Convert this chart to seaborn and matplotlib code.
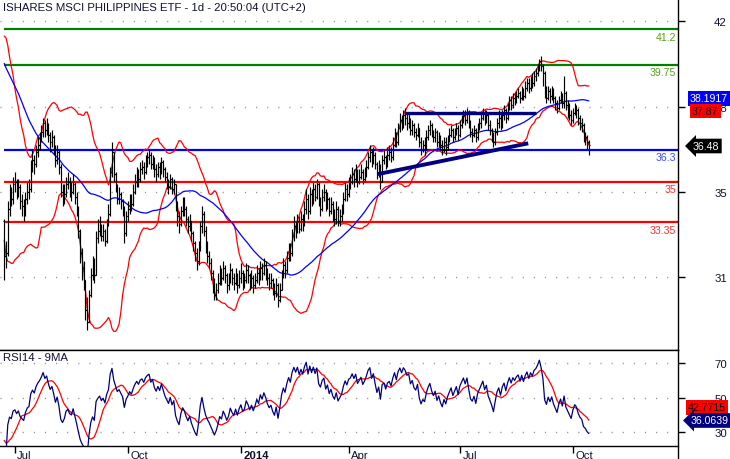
import numpy as np
import pandas as pd
import matplotlib
matplotlib.use("Agg")
import matplotlib.pyplot as plt
from matplotlib.lines import Line2D
from matplotlib.transforms import blended_transform_factory
import seaborn as sns

# ---------------- data ----------------
title = "ISHARES MSCI PHILIPPINES ETF - 1d - 20:50:04 (UTC+2)"
rsi_title = "RSI14 - 9MA"

# closes before the first visible bar (only used to seed the indicators)
warmup_closes = [41.2, 41.5, 41.8, 41.6, 42.0, 42.3, 42.1, 42.6, 42.9, 43.2,
                 43.0, 43.4, 43.6, 43.3, 42.8, 42.5, 42.9, 42.4, 42.0, 41.6,
                 41.9, 41.3, 40.8, 41.1, 40.6, 40.2, 40.5, 40.0, 39.6, 40.1,
                 39.4, 39.0, 39.5, 38.8, 38.3, 38.9, 38.2, 37.6, 37.9, 37.2,
                 36.6, 37.0, 36.3, 35.7, 35.9, 35.2, 34.6, 34.0, 33.4]

closes = [
    32.0, 32.1, 33.9, 34.5, 34.3, 34.9, 35.0, 34.6, 34.8, 34.2,
    34.0, 33.8, 34.3, 34.6, 34.7, 35.6, 35.9, 35.7, 36.2, 36.5,
    36.7, 37.0, 37.4, 37.1, 37.3, 36.9, 36.6, 36.8, 36.4, 35.9,
    36.2, 35.6, 34.6, 34.3, 34.5, 34.9, 35.0, 34.7, 34.6, 34.9,
    34.4, 33.8, 33.0, 32.1, 31.5, 31.0, 29.8, 29.3, 30.4, 31.2,
    31.6, 31.2, 32.7, 33.0, 33.2, 32.8, 33.0, 32.6, 33.3, 33.7,
    35.4, 36.2, 35.3, 34.8, 34.3, 34.5, 34.2, 33.9, 32.9, 33.6,
    33.9, 34.3, 34.1, 34.6, 35.0, 35.3, 35.1, 35.5, 35.6, 35.4,
    35.8, 36.0, 36.1, 35.7, 35.9, 35.5, 35.3, 35.6, 35.4, 35.8,
    35.5, 35.2, 35.0, 34.8, 35.1, 34.7, 34.9, 34.0, 33.6, 33.3,
    33.8, 34.1, 33.9, 33.5, 33.2, 33.4, 32.9, 32.5, 32.1, 31.8,
    32.3, 33.2, 33.7, 33.0, 32.4, 32.0, 31.7, 31.3, 30.9, 30.4,
    30.6, 30.9, 31.3, 31.1, 31.5, 31.2, 30.8, 31.0, 31.4, 31.1,
    30.9, 31.2, 30.8, 31.1, 31.3, 30.9, 31.0, 31.4, 31.2, 30.9,
    31.1, 30.8, 31.0, 31.3, 31.1, 31.5, 31.3, 31.6, 31.4, 31.1,
    30.9, 31.0, 30.7, 30.5, 30.8, 30.2, 30.6, 31.2, 31.6, 31.4,
    31.9, 32.3, 32.1, 32.8, 33.2, 33.0, 33.4, 33.1, 33.5, 33.3,
    33.9, 34.3, 33.8, 34.5, 34.2, 34.7, 34.4, 34.9, 34.1, 33.9,
    34.4, 34.6, 34.0, 34.3, 33.8, 34.1, 33.7, 33.5, 33.9, 33.4,
    33.6, 33.8, 34.3, 34.7, 34.5, 34.9, 35.0, 35.3, 35.1, 35.4,
    35.0, 35.2, 35.4, 35.1, 35.3, 35.6, 36.0, 36.2, 35.8, 36.1,
    35.7, 35.3, 35.6, 35.0, 35.9, 36.0, 35.7, 36.1, 36.2, 36.0,
    36.5, 36.9, 36.6, 37.2, 37.5, 37.3, 37.7, 37.6, 37.4, 37.5,
    37.1, 37.3, 37.0, 36.9, 37.2, 36.6, 36.3, 36.5, 36.4, 36.8,
    37.1, 37.3, 37.0, 36.8, 37.0, 36.6, 36.8, 36.5, 36.3, 36.6,
    36.4, 36.7, 36.9, 37.1, 36.8, 37.0, 37.2, 36.9, 37.3, 37.5,
    37.7, 37.5, 37.8, 37.4, 37.0, 36.9, 37.1, 36.8, 37.2, 37.4,
    37.6, 37.8, 37.5, 37.7, 37.3, 37.1, 36.9, 36.6, 37.0, 37.4,
    37.6, 37.3, 37.7, 37.9, 37.6, 38.0, 38.3, 38.1, 38.4, 38.3,
    38.5, 38.6, 38.4, 38.7, 38.5, 38.8, 39.0, 38.8, 39.1, 39.0,
    39.3, 39.4, 39.6, 39.9, 39.7, 39.4, 38.6, 38.4, 38.7, 38.5,
    38.7, 38.4, 38.2, 38.0, 38.3, 38.5, 38.2, 38.6, 38.1, 37.9,
    37.7, 37.5, 37.8, 38.0, 37.9, 37.6, 37.4, 37.3, 36.9, 36.8, 36.6, 36.48]

highs = [
    33.5, 32.6, 34.2, 34.9, 34.8, 35.2, 35.4, 35.1, 35.1, 34.9,
    34.5, 34.3, 34.6, 35.0, 35.1, 35.9, 36.3, 36.1, 36.5, 36.8,
    37.0, 37.3, 37.6, 37.5, 37.6, 37.4, 37.0, 37.1, 36.9, 36.5,
    36.5, 36.3, 35.7, 34.9, 34.9, 35.2, 35.4, 35.2, 35.0, 35.3,
    35.0, 34.6, 34.0, 33.1, 32.3, 31.8, 31.0, 30.3, 30.6, 31.5,
    32.0, 31.9, 33.0, 33.5, 33.6, 33.3, 33.3, 33.1, 33.5, 34.1,
    35.6, 36.6, 36.1, 35.4, 34.9, 34.8, 34.6, 34.3, 34.0, 33.8,
    34.2, 34.5, 34.5, 34.9, 35.3, 35.6, 35.5, 35.8, 35.9, 35.8,
    36.1, 36.2, 36.3, 36.2, 36.1, 36.0, 35.7, 35.8, 35.8, 36.0,
    35.9, 35.6, 35.4, 35.1, 35.3, 35.2, 35.1, 34.9, 34.2, 33.8,
    34.0, 34.4, 34.4, 34.0, 33.6, 33.7, 33.4, 33.0, 32.6, 32.3,
    32.6, 33.4, 34.0, 33.8, 33.2, 32.6, 32.2, 31.9, 31.4, 31.1,
    30.9, 31.3, 31.6, 31.5, 31.8, 31.6, 31.3, 31.3, 31.7, 31.5,
    31.3, 31.5, 31.3, 31.4, 31.7, 31.4, 31.3, 31.7, 31.6, 31.3,
    31.4, 31.2, 31.3, 31.6, 31.5, 31.8, 31.7, 31.9, 31.8, 31.5,
    31.3, 31.3, 31.1, 30.9, 31.1, 30.9, 30.9, 31.4, 31.9, 31.8,
    32.2, 32.5, 32.5, 33.1, 33.6, 33.4, 33.7, 33.6, 33.8, 33.7,
    34.2, 34.7, 34.5, 34.8, 34.7, 35.0, 34.9, 35.1, 35.0, 34.4,
    34.7, 34.9, 34.7, 34.6, 34.4, 34.4, 34.2, 33.9, 34.2, 34.0,
    33.9, 34.1, 34.6, 35.0, 34.9, 35.2, 35.3, 35.6, 35.5, 35.7,
    35.5, 35.5, 35.7, 35.5, 35.6, 35.9, 36.2, 36.5, 36.3, 36.4,
    36.2, 35.8, 35.9, 35.7, 36.1, 36.3, 36.1, 36.4, 36.5, 36.4,
    36.8, 37.2, 37.0, 37.4, 37.8, 37.7, 37.9, 38.0, 37.8, 37.8,
    37.6, 37.5, 37.4, 37.2, 37.4, 37.2, 36.8, 36.7, 36.8, 37.1,
    37.3, 37.5, 37.4, 37.1, 37.2, 37.1, 37.0, 36.9, 36.7, 36.8,
    36.8, 36.9, 37.2, 37.3, 37.2, 37.2, 37.4, 37.3, 37.5, 37.7,
    37.9, 37.9, 38.0, 37.9, 37.5, 37.2, 37.3, 37.2, 37.4, 37.6,
    37.8, 38.0, 37.9, 37.9, 37.8, 37.5, 37.2, 37.0, 37.2, 37.6,
    37.9, 37.8, 37.9, 38.1, 38.0, 38.2, 38.5, 38.5, 38.6, 38.6,
    38.7, 38.8, 38.7, 38.9, 38.8, 39.1, 39.2, 39.2, 39.3, 39.4,
    39.5, 39.6, 39.8, 40.0, 40.1, 39.8, 39.5, 38.9, 38.9, 38.8,
    38.9, 38.8, 38.5, 38.3, 38.5, 38.7, 38.6, 39.3, 38.7, 38.3,
    38.2, 37.9, 38.0, 38.2, 38.1, 38.0, 37.7, 37.6, 37.4, 37.0, 36.9, 36.7]

lows = [
    31.0, 31.5, 32.0, 33.6, 34.0, 34.1, 34.6, 34.3, 34.4, 33.9,
    33.6, 33.4, 33.6, 34.1, 34.3, 34.6, 35.4, 35.3, 35.6, 36.0,
    36.3, 36.6, 36.8, 36.8, 36.9, 36.6, 36.2, 36.4, 36.1, 35.6,
    35.7, 35.3, 34.4, 34.0, 34.1, 34.4, 34.7, 34.4, 34.2, 34.5,
    34.1, 33.6, 32.7, 31.7, 31.0, 30.6, 29.4, 29.0, 29.3, 30.3,
    31.0, 30.9, 31.4, 32.5, 32.8, 32.6, 32.6, 32.4, 32.5, 33.2,
    33.6, 35.2, 35.0, 34.6, 34.1, 34.1, 33.9, 33.6, 32.5, 32.8,
    33.4, 33.7, 33.8, 34.0, 34.5, 34.8, 34.8, 35.0, 35.3, 35.1,
    35.3, 35.6, 35.7, 35.5, 35.5, 35.2, 35.0, 35.2, 35.1, 35.3,
    35.2, 35.0, 34.7, 34.5, 34.7, 34.5, 34.5, 33.8, 33.2, 32.9,
    33.2, 33.6, 33.6, 33.2, 32.9, 33.0, 32.6, 32.2, 31.8, 31.4,
    31.6, 32.2, 32.9, 32.8, 32.1, 31.7, 31.5, 31.0, 30.5, 30.2,
    30.2, 30.5, 30.8, 30.8, 31.0, 30.9, 30.5, 30.6, 30.9, 30.8,
    30.6, 30.8, 30.5, 30.7, 30.9, 30.6, 30.7, 30.9, 30.9, 30.6,
    30.7, 30.5, 30.7, 30.9, 30.8, 31.0, 31.0, 31.2, 31.0, 30.8,
    30.6, 30.7, 30.4, 30.2, 30.3, 29.9, 30.1, 30.6, 31.1, 31.1,
    31.3, 31.8, 31.8, 32.0, 32.6, 32.7, 32.9, 32.9, 33.0, 33.0,
    33.2, 33.7, 33.5, 33.7, 34.0, 34.1, 34.2, 34.3, 34.0, 33.6,
    33.8, 34.2, 33.8, 33.9, 33.6, 33.7, 33.4, 33.2, 33.3, 33.2,
    33.2, 33.4, 33.7, 34.2, 34.2, 34.4, 34.7, 34.9, 34.8, 35.0,
    34.8, 34.9, 35.1, 34.9, 35.0, 35.2, 35.5, 35.8, 35.6, 35.7,
    35.5, 35.1, 35.2, 34.7, 35.1, 35.7, 35.5, 35.6, 35.9, 35.8,
    35.9, 36.4, 36.4, 36.5, 37.0, 37.1, 37.2, 37.3, 37.1, 37.2,
    36.9, 36.9, 36.8, 36.7, 36.8, 36.4, 36.1, 36.2, 36.1, 36.3,
    36.7, 36.9, 36.8, 36.6, 36.6, 36.4, 36.4, 36.3, 36.1, 36.2,
    36.1, 36.3, 36.6, 36.8, 36.6, 36.7, 36.9, 36.7, 36.8, 37.2,
    37.4, 37.3, 37.4, 37.2, 36.8, 36.6, 36.8, 36.6, 36.7, 37.1,
    37.2, 37.5, 37.3, 37.4, 37.1, 36.9, 36.6, 36.4, 36.5, 36.9,
    37.2, 37.1, 37.2, 37.5, 37.4, 37.5, 37.9, 37.9, 38.0, 38.1,
    38.2, 38.4, 38.2, 38.3, 38.3, 38.4, 38.7, 38.6, 38.7, 38.8,
    38.9, 39.1, 39.3, 39.5, 39.5, 38.9, 38.4, 38.2, 38.3, 38.2,
    38.3, 38.2, 37.9, 37.8, 37.9, 38.2, 38.0, 38.0, 37.9, 37.6,
    37.5, 37.3, 37.4, 37.7, 37.6, 37.3, 37.1, 37.0, 36.6, 36.5, 36.3, 36.1]

# horizontal support / resistance levels
level_values = [41.2, 39.75, 36.3, 35.0, 33.35]
level_labels = ["41.2", "39.75", "36.3", "35", "33.35"]
level_colors = ["#008000", "#008000", "#0000ff", "#ff0000", "#ff0000"]
level_text_colors = ["#5a9e1e", "#5a9e1e", "#3a4cff", "#ff3030", "#ff3030"]

# hand-drawn trend lines (bar index, price)
trend_up_idx = [211.6, 296.7]
trend_up_val = [35.31, 36.56]
resist_idx = [226.9, 300.9]
resist_val = [37.81, 37.81]

# axis ticks
month_pos = [6, 70, 134, 195, 258, 322]
month_labels = ["Jul", "Oct", "2014", "Apr", "Jul", "Oct"]
price_ticks = [41.54, 38.02, 34.57, 31.12]
price_tick_labels = ["42", "38", "35", "31"]
rsi_ticks = [70, 50, 30]
rsi_tick_labels = ["70", "50", "30"]

# value tags on the right
last_price_tag = "36.48"
ma_tag = "38.1917"
bb_tag = "37.87"
rsi_tag = "36.0639"
rsi_ma_tag = "42.7715"

# ---------------- indicators ----------------
n = len(closes)
allc = pd.Series(warmup_closes + closes, dtype=float)
ma50 = allc.rolling(50).mean()
mid20 = allc.rolling(20).mean()
sd20 = allc.rolling(20).std(ddof=0)
bb_up = mid20 + 2 * sd20
bb_lo = mid20 - 2 * sd20
delta = allc.diff()
gain = delta.clip(lower=0)
loss = -delta.clip(upper=0)
ag = gain.ewm(alpha=1 / 14, adjust=False).mean()
al = loss.ewm(alpha=1 / 14, adjust=False).mean()
rsi = 100 - 100 / (1 + ag / al)
rsi_ma = rsi.rolling(9).mean()

k = len(warmup_closes)
idx = np.arange(n)
df = pd.DataFrame({
    "i": idx,
    "ma50": ma50.values[k:],
    "bb_up": bb_up.values[k:],
    "bb_lo": bb_lo.values[k:],
    "rsi": rsi.values[k:],
    "rsi_ma": rsi_ma.values[k:],
})

c = np.array(closes)
opens = np.array([warmup_closes[-1]] + closes[:-1])
hi = np.maximum(np.array(highs), np.maximum(opens, c))
lo = np.minimum(np.array(lows), np.minimum(opens, c))

# ---------------- figure ----------------
sns.set_style("white")
plt.rcParams["font.family"] = ["Liberation Sans", "DejaVu Sans"]

W, H = 730, 460
fig = plt.figure(figsize=(W / 100, H / 100), dpi=100)
ax = fig.add_axes([0, (H - 350.7) / H, 678 / W, 350.7 / H])
ax2 = fig.add_axes([0, (H - 447.3) / H, 678 / W, 96.6 / H], sharex=ax)

xlim = (-2.4, 381.5)
dots = (0, (0.8, 7.2))
txtc = "#101030"

# main panel
for t in price_ticks:
    ax.axhline(t, color="#909090", lw=1.0, ls=dots, zorder=0)

for v, col in zip(level_values, level_colors):
    ax.hlines(v, 0, xlim[1], color=col, lw=1.6, zorder=2)

sns.lineplot(data=df, x="i", y="bb_up", ax=ax, color="#ff0000", lw=0.9, legend=False, zorder=3)
sns.lineplot(data=df, x="i", y="bb_lo", ax=ax, color="#ff0000", lw=0.9, legend=False, zorder=3)
sns.lineplot(data=df, x="i", y="ma50", ax=ax, color="#0000ff", lw=0.9, legend=False, zorder=3)

ax.vlines(idx, lo, hi, color="black", lw=0.85, zorder=4)
ax.hlines(opens, idx - 0.75, idx, color="black", lw=0.85, zorder=4)
ax.hlines(c, idx, idx + 0.75, color="black", lw=0.85, zorder=4)

ax.plot(trend_up_idx, trend_up_val, color="#000080", lw=2.8, zorder=5, solid_capstyle="butt")
ax.plot(resist_idx, resist_val, color="#000080", lw=2.4, zorder=5, solid_capstyle="butt")

for v, lab, col in zip(level_values, level_labels, level_text_colors):
    ax.annotate(lab, xy=(1, v), xycoords=("axes fraction", "data"),
                xytext=(-2, -7.5), textcoords="offset pixels",
                ha="right", va="center", fontsize=7.6, color=col, zorder=6)

ax.set_xlim(*xlim)
ax.set_ylim(28.18, 42.42)
ax.set_xlabel("")
ax.set_ylabel("")
ax.yaxis.tick_right()
ax.set_yticks(price_ticks)
ax.set_yticklabels(price_tick_labels)
ax.tick_params(axis="y", direction="out", length=5, width=1, color="black",
               pad=21, labelsize=8.2, labelcolor=txtc)
ax.tick_params(axis="x", bottom=False, labelbottom=False)
for s in ["top", "left", "right"]:
    ax.spines[s].set_visible(False)
ax.spines["bottom"].set_color("black")
ax.spines["bottom"].set_linewidth(1.0)

# RSI panel
for t in rsi_ticks:
    ax2.axhline(t, color="#909090", lw=1.0, ls=dots, zorder=0)
sns.lineplot(data=df, x="i", y="rsi_ma", ax=ax2, color="#ff0000", lw=0.9, legend=False, zorder=3)
sns.lineplot(data=df, x="i", y="rsi", ax=ax2, color="#000080", lw=0.9, legend=False, zorder=4)
ax2.set_ylim(21.9, 77.9)
ax2.set_xlabel("")
ax2.set_ylabel("")
ax2.yaxis.tick_right()
ax2.set_yticks(rsi_ticks)
ax2.set_yticklabels(rsi_tick_labels)
ax2.tick_params(axis="y", direction="out", length=5, width=1, color="black",
                pad=21, labelsize=8.2, labelcolor=txtc)
ax2.set_xticks(month_pos)
ax2.set_xticklabels([])
ax2.tick_params(axis="x", direction="out", length=5, width=1, color="black", bottom=True)
for s in ["left", "right"]:
    ax2.spines[s].set_visible(False)
for s in ["top", "bottom"]:
    ax2.spines[s].set_color("black")
    ax2.spines[s].set_linewidth(1.0)

tr = blended_transform_factory(ax2.transData, ax2.transAxes)
for p, lab in zip(month_pos, month_labels):
    ax2.text(p + 1.4, -0.085, lab, transform=tr, ha="left", va="center",
             fontsize=8.2, color=txtc, fontweight="bold" if lab == "2014" else "normal",
             clip_on=False)

# right-hand full height spine
fig.add_artist(Line2D([678 / W, 678 / W], [0, 1], color="black", lw=1.0))

# titles
fig.text(3 / W, 1 - 8 / H, title, ha="left", va="center", fontsize=8.2, color=txtc)
fig.text(3 / W, 1 - 358 / H, rsi_title, ha="left", va="center", fontsize=8.2, color=txtc)

# value tags
def tag(x_px, y_px, s, fc, tc, arrow=False):
    style = "larrow,pad=0.22" if arrow else "square,pad=0.22"
    fig.text(x_px / W, 1 - y_px / H, s, ha="left", va="center", fontsize=7.6,
             color=tc, zorder=10,
             bbox=dict(boxstyle=style, fc=fc, ec="none"))

tag(690, 99.5, ma_tag, "#0000ff", "white")
tag(692, 112, bb_tag, "#ff0000", "black")
tag(693, 147, last_price_tag, "black", "white", arrow=True)
tag(688, 408.5, rsi_ma_tag, "#ff0000", "black")
tag(691, 421.5, rsi_tag, "#000080", "white", arrow=True)

fig.savefig("out.png", dpi=100)
